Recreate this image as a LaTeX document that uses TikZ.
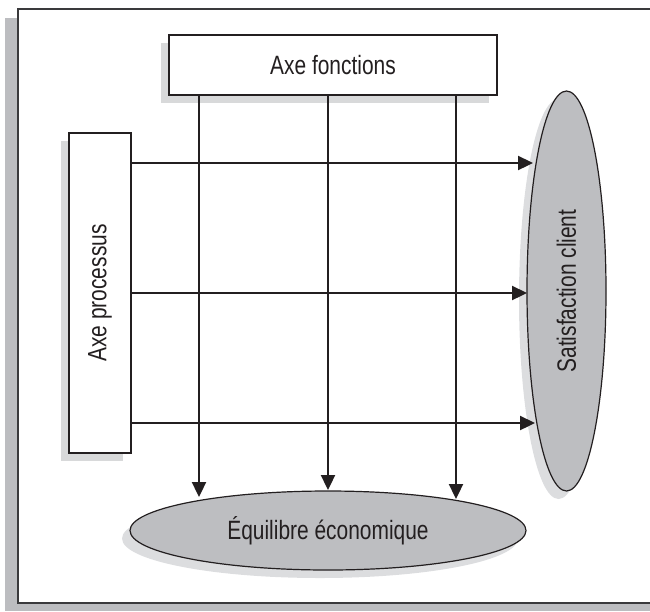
\documentclass[tikz,border=0pt]{standalone}
\usepackage{fontspec}
\setmainfont{Liberation Sans}[FakeStretch=0.79]
\usetikzlibrary{shapes.geometric,arrows.meta,shadows}
\definecolor{framecol}{HTML}{3A3A3C}
\definecolor{frameshadow}{HTML}{BCBDC0}
\definecolor{boxshadow}{HTML}{D8D9DA}
\definecolor{ellfill}{HTML}{BDBEC1}
\definecolor{ellshadow}{HTML}{DCDDDF}
\definecolor{linecol}{HTML}{231F20}
\tikzset{
  axisbox/.style={draw=linecol, line width=1.7pt, fill=white, rectangle, inner sep=0pt,
    general shadow={fill=boxshadow, shadow xshift=-8pt, shadow yshift=-8pt},
    font=\fontsize{26.5}{30}\selectfont, text=linecol},
  goal/.style={draw=linecol, line width=1.2pt, fill=ellfill, ellipse, inner sep=0pt,
    general shadow={fill=ellshadow, shadow xshift=-8pt, shadow yshift=-8pt},
    font=\fontsize{26.5}{30}\selectfont, text=linecol},
  arr/.style={draw=linecol, line width=2.3pt, -{Triangle[length=15pt,width=14pt]}}
}
\begin{document}
\begin{tikzpicture}[x=1pt,y=-1pt]
\useasboundingbox (0,0) rectangle (650,611);
% outer frame and its shadow
\fill[frameshadow] (5,18) rectangle (18,611);
\fill[frameshadow] (5,603) rectangle (650,611);
\draw[framecol, line width=2pt] (650,9) -- (18,9) -- (18,603) -- (650,603);

% nodes
\node[axisbox, minimum width=328pt, minimum height=60pt] (af) at (333,65) {Axe fonctions};
\node[axisbox, minimum width=62pt, minimum height=320pt] (ap) at (100,293) {\rotatebox{90}{Axe processus}};
\node[goal, minimum width=79pt, minimum height=400pt] (sc) at (566.5,291) {\rotatebox{90}{Satisfaction client}};
\node[goal, minimum width=396pt, minimum height=79pt] (eq) at (328,530.5) {Équilibre économique};

% arrow tips on the ellipses
\coordinate (h1) at (533,163);
\coordinate (h2) at (527,293);
\coordinate (h3) at (535,423);
\coordinate (v1) at (199,497);
\coordinate (v2) at (328,490);
\coordinate (v3) at (456,499);

\draw[arr] (ap.east |- h1) -- (h1);
\draw[arr] (ap.east |- h2) -- (h2);
\draw[arr] (ap.east |- h3) -- (h3);
\draw[arr] (af.south -| v1) -- (v1);
\draw[arr] (af.south -| v2) -- (v2);
\draw[arr] (af.south -| v3) -- (v3);
\end{tikzpicture}
\end{document}
